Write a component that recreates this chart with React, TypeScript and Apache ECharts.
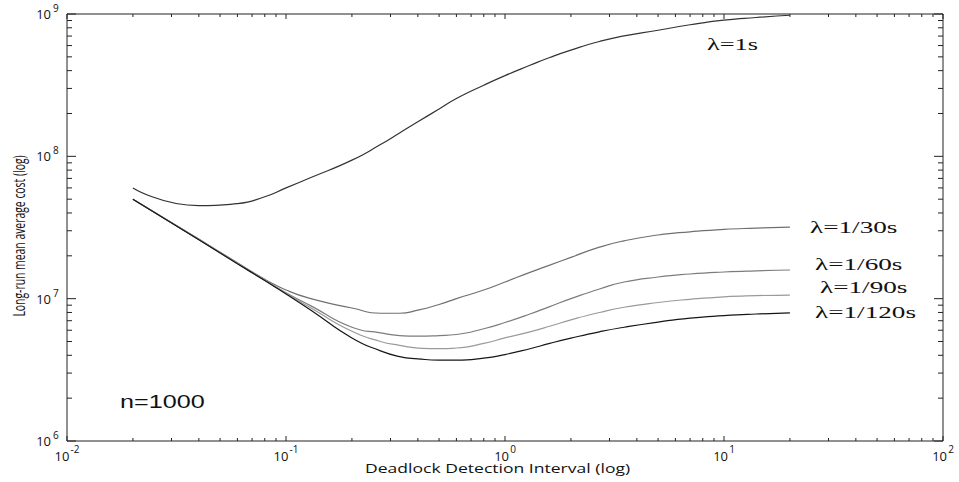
import React, { useEffect, useRef } from "react";
import * as echarts from "echarts";

// Deadlock detection interval (x, log scale)
const intervals = [0.02, 0.04, 0.06, 0.08, 0.1, 0.13, 0.2, 0.27, 0.33, 0.4, 0.5, 0.6, 0.8, 1, 1.3, 1.6, 2, 2.7, 3.5, 5, 7, 10, 14, 20];

// Long-run mean average cost per arrival rate
const cost1s = [6.0e7, 4.5e7, 4.65e7, 5.2e7, 6.0e7, 7.1e7, 9.4e7, 1.21e8, 1.46e8, 1.75e8, 2.15e8, 2.55e8, 3.16e8, 3.69e8, 4.36e8, 4.95e8, 5.58e8, 6.41e8, 7.02e8, 7.69e8, 8.4e8, 9.05e8, 9.45e8, 9.8e8];
const cost30s = [5e7, 2.62e7, 1.79e7, 1.37e7, 1.15e7, 1.0e7, 8.6e6, 7.9e6, 7.9e6, 8.3e6, 9.1e6, 1.0e7, 1.15e7, 1.31e7, 1.53e7, 1.72e7, 1.95e7, 2.3e7, 2.55e7, 2.8e7, 2.95e7, 3.07e7, 3.13e7, 3.18e7];
const cost60s = [5e7, 2.6e7, 1.77e7, 1.35e7, 1.1e7, 8.9e6, 6.3e6, 5.75e6, 5.5e6, 5.45e6, 5.5e6, 5.6e6, 6.15e6, 6.8e6, 7.8e6, 8.8e6, 1.0e7, 1.17e7, 1.31e7, 1.42e7, 1.49e7, 1.54e7, 1.57e7, 1.59e7];
const cost90s = [5e7, 2.6e7, 1.77e7, 1.35e7, 1.09e7, 8.6e6, 5.9e6, 5.0e6, 4.7e6, 4.5e6, 4.45e6, 4.5e6, 4.85e6, 5.3e6, 5.85e6, 6.4e6, 7.1e6, 8.0e6, 8.7e6, 9.4e6, 9.9e6, 1.03e7, 1.05e7, 1.06e7];
const cost120s = [5e7, 2.59e7, 1.76e7, 1.34e7, 1.08e7, 8.3e6, 5.3e6, 4.3e6, 3.92e6, 3.78e6, 3.7e6, 3.7e6, 3.82e6, 4.05e6, 4.45e6, 4.85e6, 5.28e6, 5.85e6, 6.3e6, 6.85e6, 7.3e6, 7.6e6, 7.8e6, 7.95e6];

const seriesNames = ["λ=1s", "λ=1/30s", "λ=1/60s", "λ=1/90s", "λ=1/120s"];
const seriesColors = ["#333333", "#707070", "#7c7c7c", "#9a9a9a", "#161616"];

// Axis ranges, tick positions and decade labels
const xDecades = [-2, -1, 0, 1, 2];
const yDecades = [6, 7, 8, 9];
const mantissas = [1, 2, 3, 4, 5, 6, 7, 8, 9];

const xTicks: number[][] = [];
xDecades.forEach((d) => {
  mantissas.forEach((m) => {
    if (d === 2 && m > 1) return;
    xTicks.push([m * Math.pow(10, d), 1e7, m === 1 ? 1 : 0]);
  });
});
const yTicks: number[][] = [];
yDecades.forEach((d) => {
  mantissas.forEach((m) => {
    if (d === 9 && m > 1) return;
    yTicks.push([1, m * Math.pow(10, d), m === 1 ? 1 : 0]);
  });
});
const xLabelValues = xDecades.map((d) => [Math.pow(10, d), 1e7]);
const yLabelValues = yDecades.map((d) => [1, Math.pow(10, d)]);

const LABEL_FONT = "Open Sans";
const TEXT_FILL = "#111";

const expOf = (v: number) => String(Math.round(Math.log10(v)));

export default function App() {
  const ref = useRef<HTMLDivElement>(null);
  useEffect(() => {
    document.body.style.margin = "0";
    const chart = echarts.init(ref.current!, undefined, { renderer: "svg" });
    const lineData = [cost1s, cost30s, cost60s, cost90s, cost120s];
    const tickStroke = "#222";
    const option: any = {
      animation: false,
      backgroundColor: "#ffffff",
      grid: { left: 67, right: 16, top: 14, bottom: 41, show: true, borderColor: "#222", borderWidth: 1, backgroundColor: "transparent" },
      xAxis: {
        type: "log",
        logBase: 10,
        min: 0.01,
        max: 100,
        axisLine: { show: false },
        axisTick: { show: false },
        splitLine: { show: false },
        axisLabel: { show: false },
      },
      yAxis: {
        type: "log",
        logBase: 10,
        min: 1e6,
        max: 1e9,
        axisLine: { show: false },
        axisTick: { show: false },
        splitLine: { show: false },
        axisLabel: { show: false },
      },
      series: [
        ...lineData.map((arr, i) => ({
          name: seriesNames[i],
          type: "line",
          data: intervals.map((x, j) => [x, arr[j]]),
          showSymbol: false,
          symbol: "none",
          smooth: 0.55,
          lineStyle: { color: seriesColors[i], width: 1.2 },
          silent: true,
          z: 3,
        })),
        {
          type: "custom",
          silent: true,
          data: xTicks,
          encode: { x: 0, y: 1 },
          clip: false,
          renderItem: (params: any, api: any) => {
            const p = api.coord([api.value(0), 1e7]);
            const cs = params.coordSys;
            const len = api.value(2) ? 5 : 3;
            const bottom = cs.y + cs.height;
            return {
              type: "group",
              children: [
                { type: "line", shape: { x1: p[0], y1: bottom, x2: p[0], y2: bottom - len }, style: { stroke: tickStroke, lineWidth: 1 } },
                { type: "line", shape: { x1: p[0], y1: cs.y, x2: p[0], y2: cs.y + len }, style: { stroke: tickStroke, lineWidth: 1 } },
              ],
            };
          },
        },
        {
          type: "custom",
          silent: true,
          data: yTicks,
          encode: { x: 0, y: 1 },
          clip: false,
          renderItem: (params: any, api: any) => {
            const p = api.coord([1, api.value(1)]);
            const cs = params.coordSys;
            const len = api.value(2) ? 9 : 5;
            const right = cs.x + cs.width;
            return {
              type: "group",
              children: [
                { type: "line", shape: { x1: cs.x, y1: p[1], x2: cs.x + len, y2: p[1] }, style: { stroke: tickStroke, lineWidth: 1 } },
                { type: "line", shape: { x1: right, y1: p[1], x2: right - len, y2: p[1] }, style: { stroke: tickStroke, lineWidth: 1 } },
              ],
            };
          },
        },
        {
          type: "custom",
          silent: true,
          data: xLabelValues,
          encode: { x: 0, y: 1 },
          clip: false,
          renderItem: (params: any, api: any) => {
            const v = api.value(0);
            const p = api.coord([v, 1e7]);
            const cs = params.coordSys;
            const e = expOf(v);
            const supW = e.replace("-", "").length * 5.7 + (e.indexOf("-") >= 0 ? 3.2 : 0);
            const w = 15 + 1 + supW;
            const left = p[0] - w / 2;
            const base = cs.y + cs.height;
            return {
              type: "group",
              children: [
                { type: "text", x: left, y: base + 15, style: { text: "10", fontSize: 13, fontFamily: LABEL_FONT, fill: TEXT_FILL, textAlign: "left", textVerticalAlign: "middle" } },
                { type: "text", x: left + 16, y: base + 8, style: { text: e, fontSize: 10, fontFamily: LABEL_FONT, fill: TEXT_FILL, textAlign: "left", textVerticalAlign: "middle" } },
              ],
            };
          },
        },
        {
          type: "custom",
          silent: true,
          data: yLabelValues,
          encode: { x: 0, y: 1 },
          clip: false,
          renderItem: (params: any, api: any) => {
            const v = api.value(1);
            const p = api.coord([1, v]);
            const cs = params.coordSys;
            const e = expOf(v);
            return {
              type: "group",
              children: [
                { type: "text", x: cs.x - 16, y: p[1], style: { text: "10", fontSize: 13, fontFamily: LABEL_FONT, fill: TEXT_FILL, textAlign: "right", textVerticalAlign: "middle" } },
                { type: "text", x: cs.x - 14, y: p[1] - 6, style: { text: e, fontSize: 10, fontFamily: LABEL_FONT, fill: TEXT_FILL, textAlign: "left", textVerticalAlign: "middle" } },
              ],
            };
          },
        },
      ],
      graphic: [
        { type: "text", x: 707, y: 44, scaleX: 1.55, style: { text: seriesNames[0], fontSize: 17, fontFamily: "Liberation Serif", fill: TEXT_FILL, textAlign: "left", textVerticalAlign: "middle" } },
        { type: "text", x: 810, y: 227, scaleX: 1.6, style: { text: seriesNames[1], fontSize: 17, fontFamily: "Liberation Serif", fill: TEXT_FILL, textAlign: "left", textVerticalAlign: "middle" } },
        { type: "text", x: 815, y: 264, scaleX: 1.6, style: { text: seriesNames[2], fontSize: 17, fontFamily: "Liberation Serif", fill: TEXT_FILL, textAlign: "left", textVerticalAlign: "middle" } },
        { type: "text", x: 820, y: 287, scaleX: 1.6, style: { text: seriesNames[3], fontSize: 17, fontFamily: "Liberation Serif", fill: TEXT_FILL, textAlign: "left", textVerticalAlign: "middle" } },
        { type: "text", x: 815, y: 312, scaleX: 1.6, style: { text: seriesNames[4], fontSize: 17, fontFamily: "Liberation Serif", fill: TEXT_FILL, textAlign: "left", textVerticalAlign: "middle" } },
        { type: "text", x: 120, y: 402, scaleX: 1.4, style: { text: "n=1000", fontSize: 18, fontFamily: "Liberation Sans", fill: TEXT_FILL, textAlign: "left", textVerticalAlign: "middle" } },
        { type: "text", x: 365, y: 468, scaleX: 1.35, style: { text: "Deadlock Detection Interval (log)", fontSize: 13, fontFamily: "Open Sans", fill: TEXT_FILL, textAlign: "left", textVerticalAlign: "middle" } },
        { type: "text", x: 18, y: 236, rotation: Math.PI / 2, scaleX: 0.8, scaleY: 1.25, style: { text: "Long-run mean average cost (log)", fontSize: 13, fontFamily: "Open Sans", fill: TEXT_FILL, textAlign: "center", textVerticalAlign: "middle" } },
      ],
    };
    chart.setOption(option);
    return () => chart.dispose();
  }, []);
  return <div ref={ref} style={{ width: 959, height: 482 }} />;
}
